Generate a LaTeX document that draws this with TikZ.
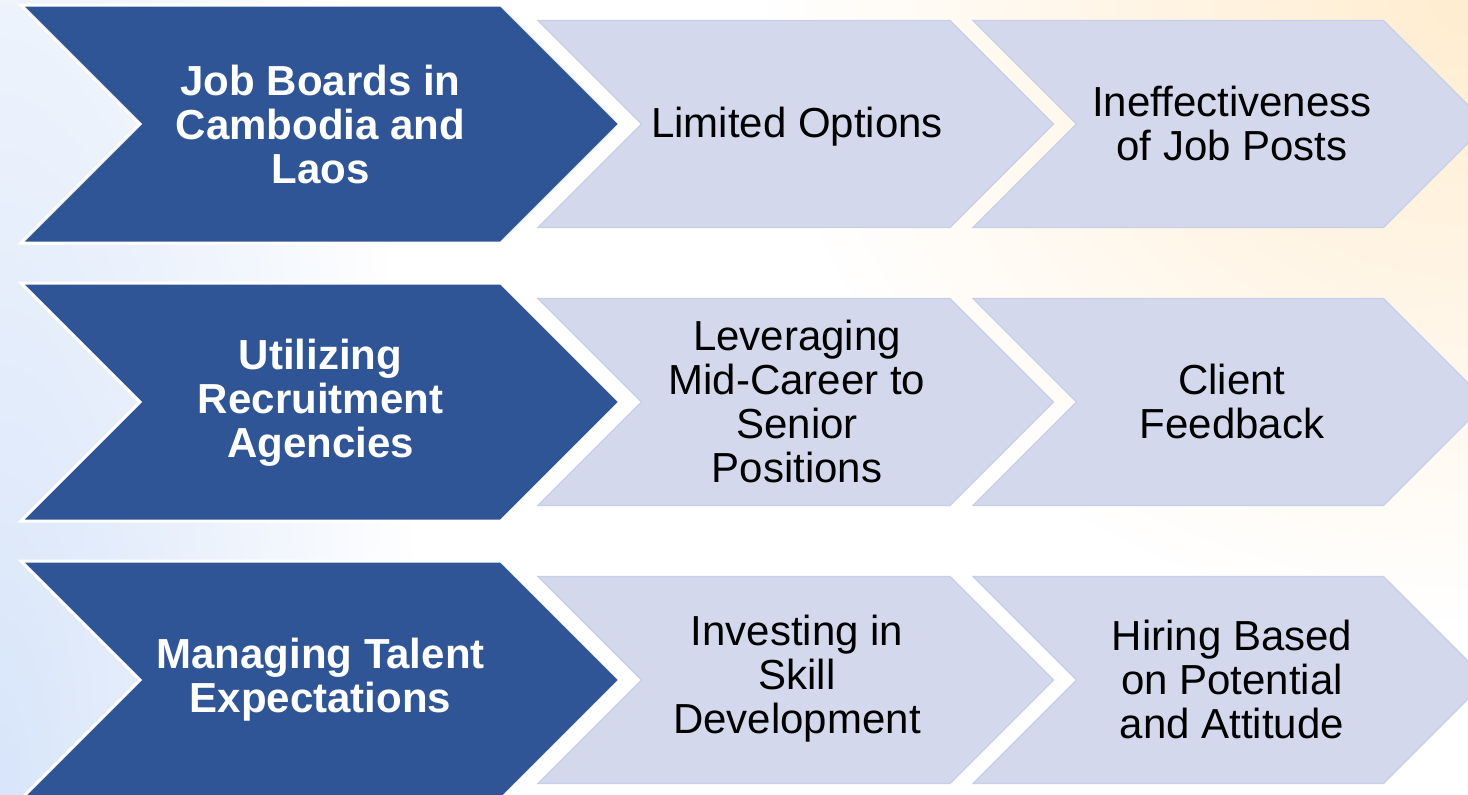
\documentclass[tikz,border=0pt]{standalone}
\usepackage{fontspec}
\setmainfont{Liberation Sans}
\usetikzlibrary{fadings}

\definecolor{darkblue}{HTML}{2F5597}
\definecolor{lightfill}{HTML}{D3D8EC}
\definecolor{lightedge}{HTML}{C8CFE8}
\definecolor{peachglow}{HTML}{FFEDD0}
\definecolor{blueglow}{HTML}{D8E5FA}

\tikzfading[name=softglow, inner color=transparent!0, outer color=transparent!100]

% chevron outline: left x, top y, bottom y, tip x
\newcommand\chevshape[4]{%
  ({#1},{#2}) -- ({(#4)-((#3)-(#2))/2},{#2}) -- ({#4},{((#2)+(#3))/2})
  -- ({(#4)-((#3)-(#2))/2},{#3}) -- ({#1},{#3}) -- ({(#1)+((#3)-(#2))/2},{((#2)+(#3))/2}) -- cycle}

\tikzset{
  headshape/.style={fill=darkblue, draw=white, line width=3pt, line join=miter},
  itemshape/.style={fill=lightfill, draw=lightedge, line width=1.2pt, line join=miter},
  headtext/.style={text=white, font=\bfseries\fontsize{42}{44}\selectfont, align=center, inner sep=0pt},
  itemtext/.style={text=black, font=\fontsize{42}{44}\selectfont, align=center, inner sep=0pt},
}

\begin{document}
\begin{tikzpicture}[x=1pt,y=-1pt]
\useasboundingbox (0,0) rectangle (1468,795);
\begin{scope}
\clip (0,0) rectangle (1468,795);
% background with soft corner glows
\fill[white] (0,0) rectangle (1468,795);
\fill[peachglow, path fading=softglow] (1468,0) ellipse [x radius=700pt, y radius=620pt];
\fill[blueglow, path fading=softglow] (0,795) ellipse [x radius=420pt, y radius=1400pt];

% three rows of chevrons
\foreach \dy in {0,278,556}{
  \path[headshape] \chevshape{21}{5+\dy}{243+\dy}{620};
  \path[itemshape] \chevshape{538}{20.5+\dy}{227.5+\dy}{1053.5};
  \path[itemshape] \chevshape{973}{20.5+\dy}{227.5+\dy}{1487};
}

% row 1
\node[headtext] (h1) at (320.5,124) {Job Boards in\\Cambodia and\\Laos};
\node[itemtext] (a1) at (797,127) {Limited Options};
\node[itemtext] (b1) at (1232,123) {Ineffectiveness\\of Job Posts};
% row 2
\node[headtext] (h2) at (320.5,403) {Utilizing\\Recruitment\\Agencies};
\node[itemtext] (a2) at (797,401) {Leveraging\\Mid-Career to\\Senior\\Positions};
\node[itemtext] (b2) at (1232,401) {Client\\Feedback};
% row 3
\node[headtext] (h3) at (320.5,680) {Managing Talent\\Expectations};
\node[itemtext] (a3) at (797,679) {Investing in\\Skill\\Development};
\node[itemtext] (b3) at (1232,679) {Hiring Based\\on Potential\\and Attitude};
\end{scope}
\end{tikzpicture}
\end{document}
